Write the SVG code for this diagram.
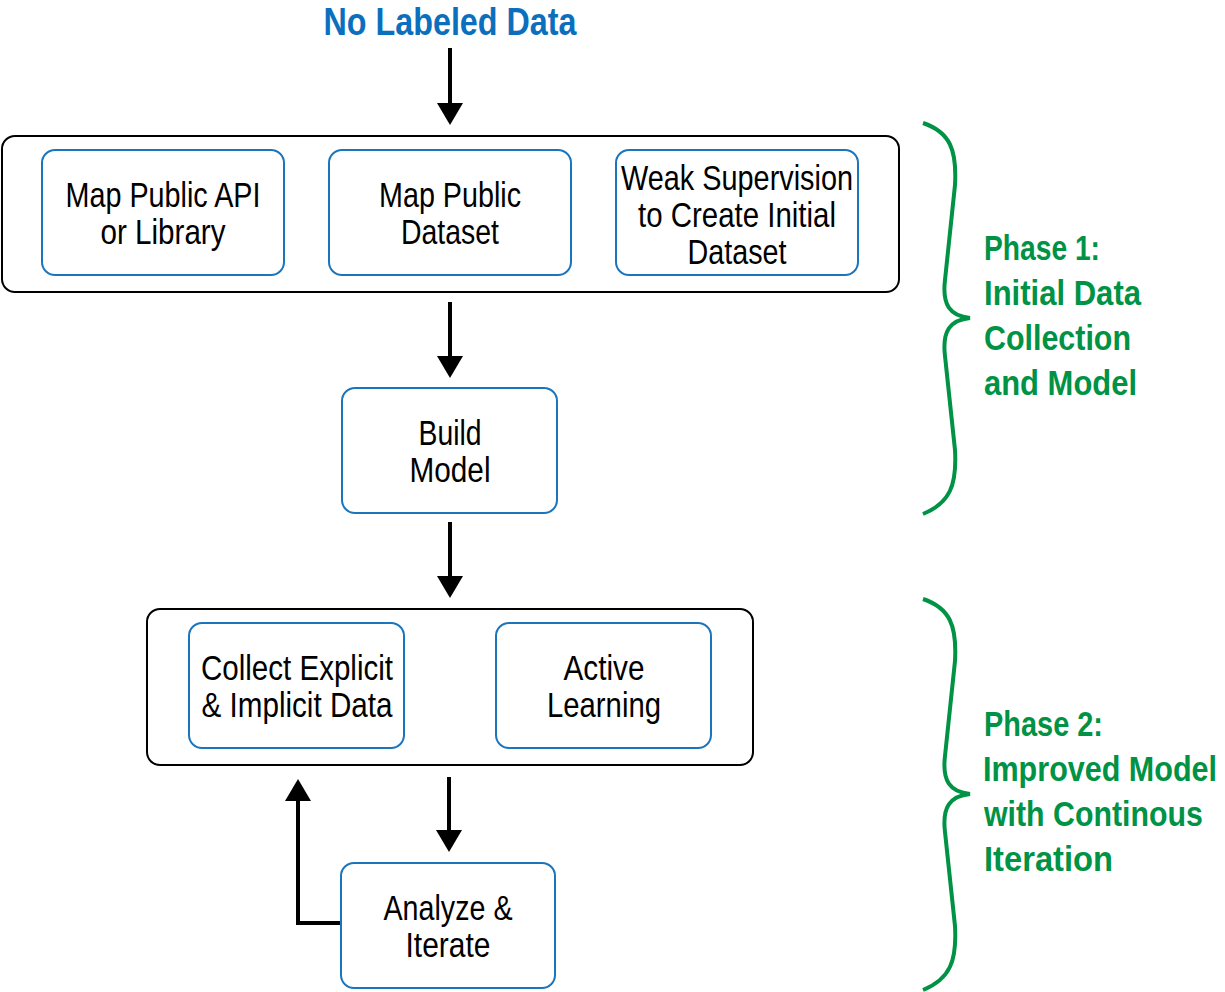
<svg xmlns="http://www.w3.org/2000/svg" width="1225" height="992" viewBox="0 0 1225 992">
<style>
.outer{fill:#fff;stroke:#000;stroke-width:2}
.node{fill:#fff;stroke:#1b75bc;stroke-width:2}
.t{font-family:"Liberation Sans",Arial,sans-serif;font-size:35px;fill:#000;text-anchor:middle}
.ph{font-family:"Liberation Sans",Arial,sans-serif;font-weight:bold;font-size:35px;fill:#009245}
.title{font-family:"Liberation Sans",Arial,sans-serif;font-weight:bold;font-size:38px;fill:#0b6fbe;text-anchor:middle}
.conn{fill:none;stroke:#000;stroke-width:4}
.brace{fill:none;stroke:#009245;stroke-width:4}
</style>
<defs>
<marker id="ah" markerWidth="24" markerHeight="26" refX="0" refY="13" orient="auto" markerUnits="userSpaceOnUse">
<path d="M0,0 L22,13 L0,26 Z" fill="#000"/>
</marker>
</defs>
<text class="title" x="450" y="35" textLength="253" lengthAdjust="spacingAndGlyphs">No Labeled Data</text>
<g id="phase1">
<rect class="outer" x="2" y="136" width="897" height="156" rx="13"/>
</g>
<g id="phase2">
<rect class="outer" x="147" y="609" width="606" height="156" rx="13"/>
</g>
<g id="map-api">
<rect class="node" x="42" y="150" width="242" height="125" rx="13"/>
<text class="t" x="163" y="207" textLength="195" lengthAdjust="spacingAndGlyphs">Map Public API</text>
<text class="t" x="163" y="244" textLength="125" lengthAdjust="spacingAndGlyphs">or Library</text>
</g>
<g id="map-dataset">
<rect class="node" x="329" y="150" width="242" height="125" rx="13"/>
<text class="t" x="450" y="207" textLength="142" lengthAdjust="spacingAndGlyphs">Map Public</text>
<text class="t" x="450" y="244" textLength="98" lengthAdjust="spacingAndGlyphs">Dataset</text>
</g>
<g id="weak-supervision">
<rect class="node" x="616" y="150" width="242" height="125" rx="13"/>
<text class="t" x="737" y="190" textLength="232" lengthAdjust="spacingAndGlyphs">Weak Supervision</text>
<text class="t" x="737" y="227" textLength="198" lengthAdjust="spacingAndGlyphs">to Create Initial</text>
<text class="t" x="737" y="264" textLength="99" lengthAdjust="spacingAndGlyphs">Dataset</text>
</g>
<g id="build-model">
<rect class="node" x="342" y="388" width="215" height="125" rx="13"/>
<text class="t" x="450" y="445" textLength="63" lengthAdjust="spacingAndGlyphs">Build</text>
<text class="t" x="450" y="482" textLength="81" lengthAdjust="spacingAndGlyphs">Model</text>
</g>
<g id="collect">
<rect class="node" x="189" y="623" width="215" height="125" rx="13"/>
<text class="t" x="297" y="680" textLength="192" lengthAdjust="spacingAndGlyphs">Collect Explicit</text>
<text class="t" x="297" y="717" textLength="191" lengthAdjust="spacingAndGlyphs">&amp; Implicit Data</text>
</g>
<g id="active-learning">
<rect class="node" x="496" y="623" width="215" height="125" rx="13"/>
<text class="t" x="604" y="680" textLength="81" lengthAdjust="spacingAndGlyphs">Active</text>
<text class="t" x="604" y="717" textLength="114" lengthAdjust="spacingAndGlyphs">Learning</text>
</g>
<g id="analyze">
<rect class="node" x="341" y="863" width="214" height="125" rx="13"/>
<text class="t" x="448" y="920" textLength="129" lengthAdjust="spacingAndGlyphs">Analyze &amp;</text>
<text class="t" x="448" y="957" textLength="85" lengthAdjust="spacingAndGlyphs">Iterate</text>
</g>
<g id="connectors">
<line class="conn" x1="450" y1="48" x2="450" y2="103" marker-end="url(#ah)"/>
<line class="conn" x1="450" y1="302" x2="450" y2="356" marker-end="url(#ah)"/>
<line class="conn" x1="450" y1="522" x2="450" y2="576" marker-end="url(#ah)"/>
<line class="conn" x1="449" y1="777" x2="449" y2="830" marker-end="url(#ah)"/>
<polyline class="conn" points="340,923 298,923 298,801" marker-end="url(#ah)"/>
</g>
<g id="brace1">
<path class="brace" d="M923,123 C950,132 957,150 955,185 L945,280 C942,305 950,316 970,318 C950,320 942,331 945,356 L955,450 C957,485 950,503 923,514"/>
<text class="ph" x="984" y="260" textLength="116" lengthAdjust="spacingAndGlyphs">Phase 1:</text>
<text class="ph" x="984" y="305" textLength="157" lengthAdjust="spacingAndGlyphs">Initial Data</text>
<text class="ph" x="984" y="350" textLength="147" lengthAdjust="spacingAndGlyphs">Collection</text>
<text class="ph" x="984" y="395" textLength="153" lengthAdjust="spacingAndGlyphs">and Model</text>
</g>
<g id="brace2">
<path class="brace" d="M923,599 C950,608 957,626 955,661 L945,756 C942,781 950,792 970,794 C950,796 942,807 945,832 L955,926 C957,961 950,979 923,990"/>
<text class="ph" x="984" y="736" textLength="119" lengthAdjust="spacingAndGlyphs">Phase 2:</text>
<text class="ph" x="983" y="781" textLength="234" lengthAdjust="spacingAndGlyphs">Improved Model</text>
<text class="ph" x="984" y="826" textLength="219" lengthAdjust="spacingAndGlyphs">with Continous</text>
<text class="ph" x="984" y="871" textLength="129" lengthAdjust="spacingAndGlyphs">Iteration</text>
</g>
</svg>
